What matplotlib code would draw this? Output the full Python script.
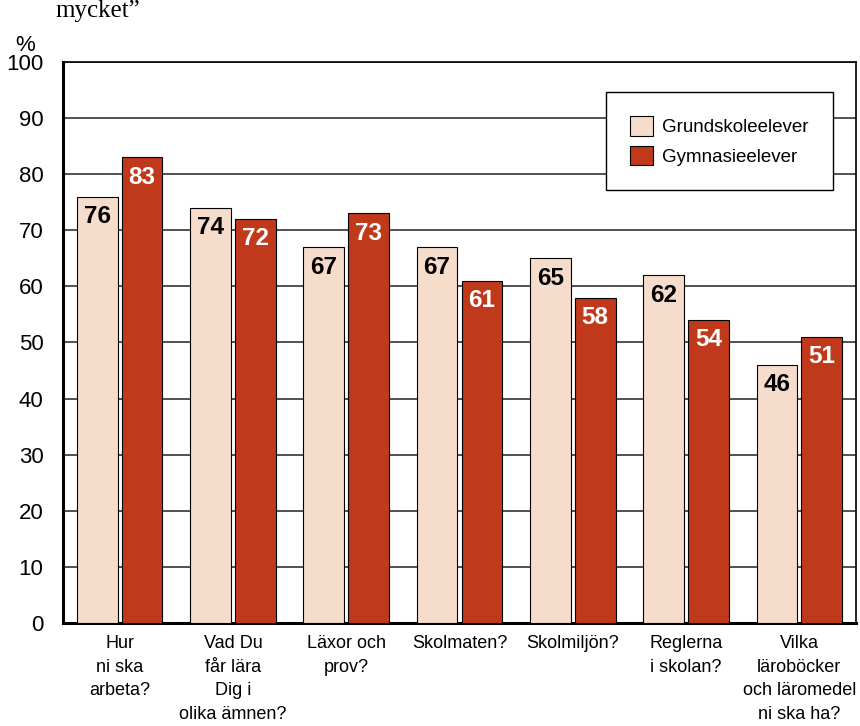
import numpy as np
import matplotlib.pyplot as plt
from matplotlib.patches import Patch

#==========Data==========
categories = ['Hur\nni ska\narbeta?', 'Vad Du\nfår lära\nDig i\nolika ämnen?', 'Läxor och\nprov?',
              'Skolmaten?', 'Skolmiljön?', 'Reglerna\ni skolan?',
              'Vilka\nläroböcker\noch läromedel\nni ska ha?']
grund = [76, 74, 67, 67, 65, 62, 46]
gymn = [83, 72, 73, 61, 58, 54, 51]
series_names = ['Grundskoleelever', 'Gymnasieelever']

light = '#f6dccb'
dark = '#c0391b'
sans = ['Liberation Sans', 'DejaVu Sans']

#==========Figure==========
fig = plt.figure(figsize=(8.6, 7.26), dpi=100)
ax = fig.add_axes([0.0733, 0.1419, 0.922, 0.7727])

x = np.arange(len(categories))
w = 0.36
off = 0.198
ax.bar(x - off, grund, w, color=light, edgecolor='black', linewidth=0.8, zorder=3)
ax.bar(x + off, gymn, w, color=dark, edgecolor='black', linewidth=0.8, zorder=3)

for xi, v in zip(x, grund):
    ax.text(xi - off, v - 1.5, str(v), ha='center', va='top', fontsize=17.5,
            fontweight='bold', color='black', family=sans, zorder=4)
for xi, v in zip(x, gymn):
    ax.text(xi + off, v - 1.5, str(v), ha='center', va='top', fontsize=17.5,
            fontweight='bold', color='white', family=sans, zorder=4)

#==========Axes==========
ax.set_xlim(-0.5, 6.5)
ax.set_ylim(0, 100)
ax.set_yticks(np.arange(0, 101, 10))
ax.set_xticks(x)
ax.set_xticklabels(categories, family=sans, fontsize=13, linespacing=1.5)
ax.tick_params(axis='x', length=0, pad=9)
ax.tick_params(axis='y', length=0, pad=14, labelsize=16)
for lab in ax.get_yticklabels():
    lab.set_family(sans)
ax.grid(axis='y', color='#333333', linewidth=1.2, zorder=0)
ax.spines['left'].set_linewidth(2.2)
ax.spines['bottom'].set_linewidth(2.2)
ax.spines['top'].set_linewidth(1.2)
ax.spines['right'].set_linewidth(1.2)

#==========Legend==========
handles = [Patch(facecolor=light, edgecolor='black', linewidth=0.8),
           Patch(facecolor=dark, edgecolor='black', linewidth=0.8)]
leg = ax.legend(handles, series_names, loc='upper right', bbox_to_anchor=(0.971, 0.9465),
                borderaxespad=0, fancybox=False, framealpha=1, edgecolor='black',
                borderpad=1.3, handlelength=1.2, handleheight=1.2, handletextpad=0.5,
                labelspacing=0.5, prop={'family': sans, 'size': 13.5})
leg.get_frame().set_linewidth(1.0)
leg.set_zorder(5)

#==========Extra text==========
fig.text(0.018, 0.93, '%', fontsize=16, family=sans)
fig.text(0.064, 0.985, 'mycket”', fontsize=18, family='Liberation Serif', va='center')

fig.savefig('out.png', dpi=100)
